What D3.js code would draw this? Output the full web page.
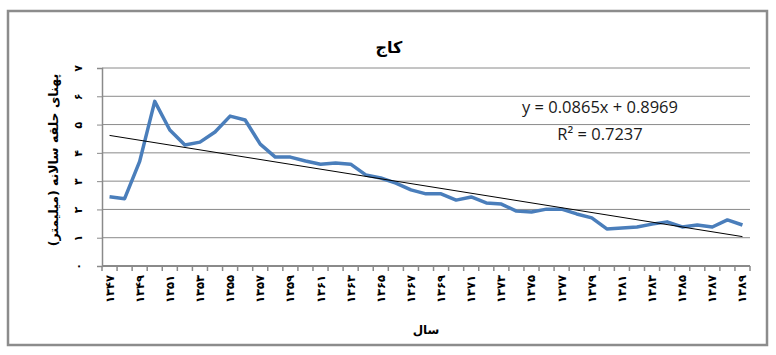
<!DOCTYPE html>
<html lang="fa">
<head>
<meta charset="UTF-8">
<title>کاج</title>
<style>
  body { margin: 0; background: #fff; }
  svg { display: block; }
</style>
</head>
<body>
<svg id="chart" width="776" height="355"></svg>
<script src="https://cdn.jsdelivr.net/npm/d3@7/dist/d3.min.js"></script>
<script>
  // years 1347..1389 (solar hijri), ring width in mm
  const years = d3.range(1347, 1390);
  const ringWidth = [2.45, 2.38, 3.7, 5.82, 4.81, 4.28, 4.38, 4.74, 5.3, 5.16,
    4.31, 3.85, 3.85, 3.71, 3.6, 3.64, 3.6, 3.22, 3.11, 2.93,
    2.69, 2.55, 2.55, 2.33, 2.44, 2.23, 2.19, 1.94, 1.91, 2.01,
    2.01, 1.84, 1.7, 1.31, 1.34, 1.38, 1.48, 1.56, 1.38, 1.45,
    1.38, 1.63, 1.45];
  const yTicks = [0, 1, 2, 3, 4, 5, 6, 7];
  const title = "کاج";
  const xTitle = "سال";
  const yTitle = "پهنای حلقه سالانه (میلیمتر)";
  const eqText = "y = 0.0865x + 0.8969";
  const r2Text = "R² = 0.7237";

  const fa = "۰۱۲۳۴۵۶۷۸۹";
  const toFa = n => String(n).replace(/\d/g, c => fa[+c]);

  const svg = d3.select("#chart");
  const plotL = 102, plotR = 750, plotT = 68, plotB = 266;

  // chart frame
  svg.append("rect")
    .attr("x", 8).attr("y", 11).attr("width", 759).attr("height", 334)
    .attr("fill", "#fff").attr("stroke", "#8c8c8c").attr("stroke-width", 2.5);

  const x = d3.scaleBand().domain(years).range([plotL, plotR]).padding(0);
  const cx = d => x(d) + x.bandwidth() / 2;
  const y = d3.scaleLinear().domain([0, 7]).range([plotB, plotT]);

  // grid
  svg.append("g").selectAll("line")
    .data(yTicks.slice(1))
    .join("line")
    .attr("x1", plotL).attr("x2", plotR)
    .attr("y1", d => y(d)).attr("y2", d => y(d))
    .attr("stroke", "#8a8a8a").attr("stroke-width", 1);

  // y axis
  const yAxis = svg.append("g")
    .attr("transform", `translate(${plotL},0)`)
    .call(d3.axisLeft(y).tickValues(yTicks).tickSize(5).tickFormat(toFa));
  yAxis.select(".domain").attr("stroke", "#8a8a8a").attr("stroke-width", 1.5);
  yAxis.selectAll(".tick line").attr("stroke", "#8a8a8a");
  yAxis.selectAll(".tick text")
    .attr("font-family", "DejaVu Sans").attr("font-size", 11).attr("font-weight", "bold")
    .attr("fill", "#000")
    .attr("x", 0).attr("dy", 0)
    .attr("text-anchor", "middle")
    .attr("transform", "translate(-20,0) rotate(-90)");

  // x axis: labels at every other year, small ticks on category borders
  const xAxis = svg.append("g")
    .attr("transform", `translate(0,${plotB})`)
    .call(d3.axisBottom(x).tickSize(0)
      .tickFormat((d, i) => i % 2 === 0 ? toFa(d) : ""));
  xAxis.select(".domain").remove();
  xAxis.selectAll(".tick text")
    .attr("font-family", "DejaVu Sans").attr("font-size", 11.5).attr("font-weight", "bold")
    .attr("fill", "#000")
    .attr("text-anchor", "end")
    .attr("y", 0).attr("dy", 0)
    .attr("transform", "translate(4,9) rotate(-90)");

  const borders = years.map(d => x(d)).concat([plotR]);
  svg.append("g").selectAll("line")
    .data(borders)
    .join("line")
    .attr("x1", d => d).attr("x2", d => d)
    .attr("y1", plotB).attr("y2", plotB + 5)
    .attr("stroke", "#8a8a8a").attr("stroke-width", 1.5);
  svg.append("line")
    .attr("x1", plotL).attr("x2", plotR).attr("y1", plotB).attr("y2", plotB)
    .attr("stroke", "#8a8a8a").attr("stroke-width", 2);

  // least squares trend over index 1..n
  const idx = years.map((d, i) => i + 1);
  const mx = d3.mean(idx), my = d3.mean(ringWidth);
  const slope = d3.sum(idx, (t, i) => (t - mx) * (ringWidth[i] - my)) /
    d3.sum(idx, t => (t - mx) * (t - mx));
  const icpt = my - slope * mx;

  // data line
  svg.append("path")
    .datum(ringWidth)
    .attr("fill", "none")
    .attr("stroke", "#4a7ebb").attr("stroke-width", 3.5)
    .attr("stroke-linejoin", "round")
    .attr("d", d3.line().x((d, i) => cx(years[i])).y(d => y(d)));

  // trend line
  svg.append("line")
    .attr("x1", cx(years[0])).attr("y1", y(icpt + slope))
    .attr("x2", cx(years[years.length - 1])).attr("y2", y(icpt + slope * years.length))
    .attr("stroke", "#000").attr("stroke-width", 1);

  // texts
  svg.append("text")
    .attr("x", 389).attr("y", 53)
    .attr("text-anchor", "middle")
    .attr("font-family", "DejaVu Sans").attr("font-size", 16).attr("font-weight", "bold")
    .text(title);

  svg.append("text")
    .attr("x", 426).attr("y", 334)
    .attr("text-anchor", "middle")
    .attr("font-family", "DejaVu Sans").attr("font-size", 12).attr("font-weight", "bold")
    .text(xTitle);

  svg.append("text")
    .attr("transform", "translate(54,160) rotate(-90)")
    .attr("text-anchor", "middle").attr("dominant-baseline", "middle")
    .attr("font-family", "DejaVu Sans").attr("font-size", 12.5).attr("font-weight", "bold")
    .text(yTitle);

  svg.append("text")
    .attr("x", 600).attr("y", 113)
    .attr("text-anchor", "middle")
    .attr("font-family", "Open Sans").attr("font-size", 16.5)
    .attr("fill", "#1a1a1a")
    .text(eqText);
  svg.append("text")
    .attr("x", 600).attr("y", 140)
    .attr("text-anchor", "middle")
    .attr("font-family", "Open Sans").attr("font-size", 16.5)
    .attr("fill", "#1a1a1a")
    .text(r2Text);
</script>
</body>
</html>
